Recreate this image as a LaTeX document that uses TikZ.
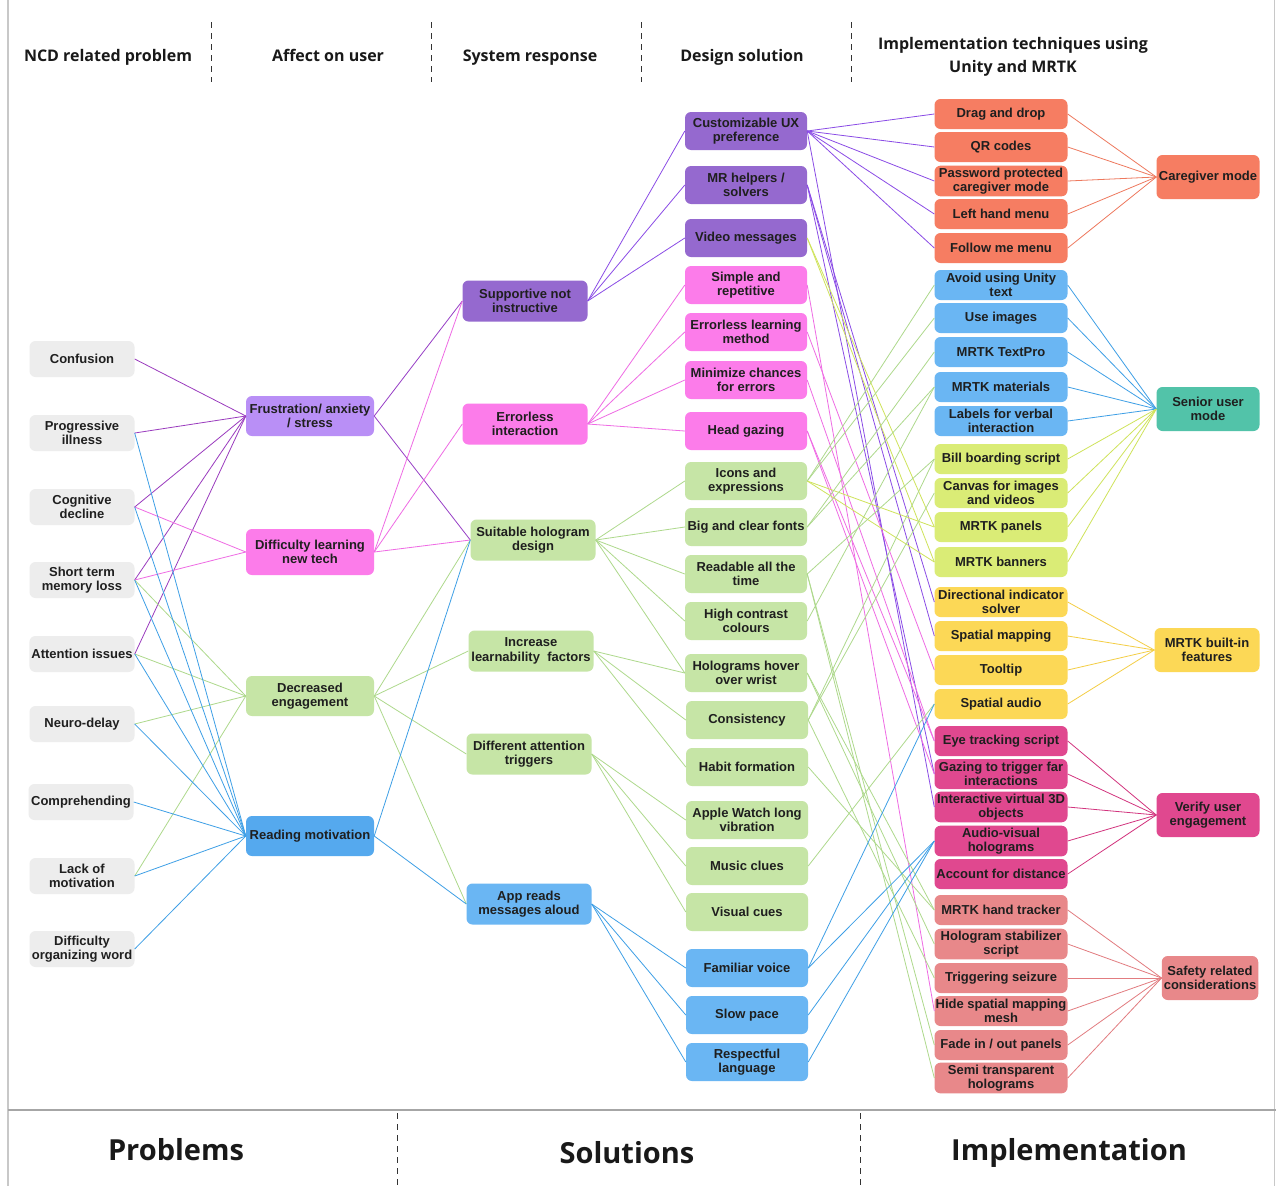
\documentclass[tikz,border=0pt]{standalone}
\usepackage{fontspec}
\setmainfont{Liberation Sans}
\newfontfamily\headfont{Open Sans}
% node fills
\definecolor{cgray}{HTML}{EDEDED}
\definecolor{clav}{HTML}{B98FF6}
\definecolor{cpink}{HTML}{FC7CEA}
\definecolor{cgreen}{HTML}{C6E5A6}
\definecolor{cblue}{HTML}{55A9EE}
\definecolor{cblue2}{HTML}{6AB6F3}
\definecolor{cviolet}{HTML}{9569CF}
\definecolor{corange}{HTML}{F67D62}
\definecolor{cteal}{HTML}{52C3A9}
\definecolor{clime}{HTML}{DAEC76}
\definecolor{cyellow}{HTML}{FCD856}
\definecolor{cmag}{HTML}{E0488F}
\definecolor{csalmon}{HTML}{E8888A}
% connector colours
\definecolor{lpurple}{HTML}{9A3BBE}
\definecolor{lviolet}{HTML}{8A4BE6}
\definecolor{lpink}{HTML}{EF6BE4}
\definecolor{lgreen}{HTML}{AED98C}
\definecolor{lblue}{HTML}{3E9FE6}
\definecolor{llime}{HTML}{CFE35A}
\definecolor{lorange}{HTML}{EE795E}
\definecolor{lyellow}{HTML}{F4CE45}
\definecolor{lmag}{HTML}{D2347E}
\definecolor{lsalmon}{HTML}{E27C80}
\definecolor{frame}{HTML}{C8C8C8}
\begin{document}
\begin{tikzpicture}[x=1pt,y=-1pt,
  box/.style={rounded corners=6pt, align=center, inner sep=2pt,
    font=\fontsize{13}{14.5}\selectfont\bfseries, text=black!88},
  prob/.style={box, fill=cgray, minimum width=105pt, minimum height=36pt},
  aff/.style={box, minimum width=128pt, minimum height=40pt},
  sys/.style={box, minimum width=125pt, minimum height=41pt},
  des/.style={box, minimum width=122pt, minimum height=38pt},
  imp/.style={box, inner xsep=1pt, minimum width=133pt, minimum height=30pt},
  cat/.style={box, minimum width=103pt, minimum height=44pt},
  head/.style={font=\headfont\fontsize{16}{23}\selectfont\bfseries, text=black!90, align=center, inner sep=0pt},
  foot/.style={font=\headfont\fontsize{29}{32}\selectfont\bfseries, text=black!90, inner sep=0pt, anchor=base},
  sep/.style={black!80, line width=0.9pt, dash pattern=on 6pt off 5pt},
  link/.style={line width=0.8pt}
]
\useasboundingbox (0,0) rectangle (1276,1186);
\fill[white] (0,0) rectangle (1276,1186);

% frame and footer rule
\draw[frame, line width=1.2pt] (8,0) -- (8,1186);
\draw[frame, line width=1.2pt] (1274.5,0) -- (1274.5,1186);
\draw[black!35, line width=1.4pt] (8,1110) -- (1276,1110);

% column headings
\node[head, anchor=base] (h1) at (108,61) {NCD related problem};
\node[head, anchor=base] (h2) at (328,61) {Affect on user};
\node[head, anchor=base] (h3) at (530,61) {System response};
\node[head, anchor=base] (h4) at (742,61) {Design solution};
\node[head] (h5) at (1013,57) {Implementation techniques using\\Unity and MRTK};
\foreach \x in {211,431,641,851} \draw[sep] (\x,22) -- (\x,82);

% footer
\node[foot] (f1) at (176,1160) {Problems};
\node[foot] (f2) at (627,1163) {Solutions};
\node[foot] (f3) at (1069,1160) {Implementation};
\foreach \x in {397,860} \draw[sep] (\x,1113) -- (\x,1186);

% NCD related problems
\node[prob] (p1) at (82,359) {Confusion};
\node[prob] (p2) at (82,433) {Progressive\\illness};
\node[prob] (p3) at (82,507) {Cognitive\\decline};
\node[prob] (p4) at (82,580) {Short term\\memory loss};
\node[prob] (p5) at (82,654) {Attention issues};
\node[prob] (p6) at (82,724) {Neuro-delay};
\node[prob] (p7) at (81,802) {Comprehending};
\node[prob] (p8) at (82,876) {Lack of\\motivation};
\node[prob] (p9) at (82,949) {Difficulty\\organizing word};

% affect on user
\node[aff, fill=clav] (a1) at (310,416) {Frustration/ anxiety\\/ stress};
\node[aff, fill=cpink, minimum height=46pt] (a2) at (310,552) {Difficulty learning\\new tech};
\node[aff, fill=cgreen] (a3) at (310,696) {Decreased\\engagement};
\node[aff, fill=cblue] (a4) at (310,836) {Reading motivation};

% system response
\node[sys, fill=cviolet] (s1) at (525,301) {Supportive not\\instructive};
\node[sys, fill=cpink] (s2) at (525,424) {Errorless\\interaction};
\node[sys, fill=cgreen] (s3) at (533,540) {Suitable hologram\\design};
\node[sys, fill=cgreen] (s4) at (531,651) {Increase\\learnability~ factors};
\node[sys, fill=cgreen] (s5) at (529,754) {Different attention\\triggers};
\node[sys, fill=cblue2] (s6) at (529,904) {App reads\\messages aloud};

% design solution
\node[des, fill=cviolet] (d1) at (746,131) {Customizable UX\\preference};
\node[des, fill=cviolet] (d2) at (746,185) {MR helpers /\\solvers};
\node[des, fill=cviolet] (d3) at (746,238) {Video messages};
\node[des, fill=cpink] (d4) at (746,285) {Simple and\\repetitive};
\node[des, fill=cpink] (d5) at (746,332) {Errorless learning\\method};
\node[des, fill=cpink] (d6) at (746,380) {Minimize chances\\for errors};
\node[des, fill=cpink] (d7) at (746,431) {Head gazing};
\node[des, fill=cgreen] (d8) at (746,481) {Icons and\\expressions};
\node[des, fill=cgreen] (d9) at (746,527) {Big and clear fonts};
\node[des, fill=cgreen] (d10) at (746,574) {Readable all the\\time};
\node[des, fill=cgreen] (d11) at (746,621) {High contrast\\colours};
\node[des, fill=cgreen] (d12) at (746,673) {Holograms hover\\over wrist};
\node[des, fill=cgreen] (d13) at (747,720) {Consistency};
\node[des, fill=cgreen] (d14) at (747,767) {Habit formation};
\node[des, fill=cgreen] (d15) at (747,820) {Apple Watch long\\vibration};
\node[des, fill=cgreen] (d16) at (747,866) {Music clues};
\node[des, fill=cgreen] (d17) at (747,912) {Visual cues};
\node[des, fill=cblue2] (d18) at (747,968) {Familiar voice};
\node[des, fill=cblue2] (d19) at (747,1015) {Slow pace};
\node[des, fill=cblue2] (d20) at (747,1062) {Respectful\\language};

% implementation techniques
\node[imp, fill=corange] (i1) at (1001,114) {Drag and drop};
\node[imp, fill=corange] (i2) at (1001,147) {QR codes};
\node[imp, fill=corange] (i3) at (1001,181) {Password protected\\caregiver mode};
\node[imp, fill=corange] (i4) at (1001,214) {Left hand menu};
\node[imp, fill=corange] (i5) at (1001,248) {Follow me menu};
\node[imp, fill=cblue2] (i6) at (1001,285) {Avoid using Unity\\text};
\node[imp, fill=cblue2] (i7) at (1001,318) {Use images};
\node[imp, fill=cblue2] (i8) at (1001,352) {MRTK TextPro};
\node[imp, fill=cblue2] (i9) at (1001,387) {MRTK materials};
\node[imp, fill=cblue2] (i10) at (1001,421) {Labels for verbal\\interaction};
\node[imp, fill=clime] (i11) at (1001,459) {Bill boarding script};
\node[imp, fill=clime] (i12) at (1001,493) {Canvas for images\\and videos};
\node[imp, fill=clime] (i13) at (1001,527) {MRTK panels};
\node[imp, fill=clime] (i14) at (1001,562) {MRTK banners};
\node[imp, fill=cyellow] (i15) at (1001,602) {Directional indicator\\solver};
\node[imp, fill=cyellow] (i16) at (1001,636) {Spatial mapping};
\node[imp, fill=cyellow] (i17) at (1001,670) {Tooltip};
\node[imp, fill=cyellow] (i18) at (1001,704) {Spatial audio};
\node[imp, fill=cmag] (i19) at (1001,741) {Eye tracking script};
\node[imp, fill=cmag] (i20) at (1001,774) {Gazing to trigger far\\interactions};
\node[imp, fill=cmag] (i21) at (1001,807) {Interactive virtual 3D\\objects};
\node[imp, fill=cmag] (i22) at (1001,841) {Audio-visual\\holograms};
\node[imp, fill=cmag] (i23) at (1001,874) {Account for distance};
\node[imp, fill=csalmon] (i24) at (1001,910) {MRTK hand tracker};
\node[imp, fill=csalmon] (i25) at (1001,944) {Hologram stabilizer\\script};
\node[imp, fill=csalmon] (i26) at (1001,978) {Triggering seizure};
\node[imp, fill=csalmon] (i27) at (1001,1011) {Hide spatial mapping\\mesh};
\node[imp, fill=csalmon] (i28) at (1001,1045) {Fade in / out panels};
\node[imp, fill=csalmon] (i29) at (1001,1078) {Semi transparent\\holograms};

% implementation groups
\node[cat, fill=corange] (c1) at (1208,177) {Caregiver mode};
\node[cat, fill=cteal] (c2) at (1208,409) {Senior user\\mode};
\node[cat, fill=cyellow, minimum width=105pt] (c3) at (1207,650) {MRTK built-in\\features};
\node[cat, fill=cmag] (c4) at (1208,815) {Verify user\\engagement};
\node[cat, fill=csalmon, minimum width=96pt] (c5) at (1210,978) {Safety related\\considerations};

% problems -> affect on user
\foreach \a in {p1,p2,p3,p4,p5} \draw[link, lpurple] (\a.east) -- (a1.west);
\foreach \a in {p3,p4} \draw[link, lpink] (\a.east) -- (a2.west);
\foreach \a in {p4,p5,p6,p8} \draw[link, lgreen] (\a.east) -- (a3.west);
\foreach \a in {p2,p3,p4,p5,p6,p7,p8,p9} \draw[link, lblue] (\a.east) -- (a4.west);

% affect on user -> system response
\foreach \b in {s1,s3} \draw[link, lpurple!80!lviolet] (a1.east) -- (\b.west);
\foreach \b in {s1,s2,s3} \draw[link, lpink] (a2.east) -- (\b.west);
\foreach \b in {s3,s4,s5,s6} \draw[link, lgreen] (a3.east) -- (\b.west);
\foreach \b in {s3,s6} \draw[link, lblue] (a4.east) -- (\b.west);

% system response -> design solution
\foreach \b in {d1,d2,d3} \draw[link, lviolet] (s1.east) -- (\b.west);
\foreach \b in {d4,d5,d6,d7} \draw[link, lpink] (s2.east) -- (\b.west);
\foreach \b in {d8,d9,d10,d11,d12} \draw[link, lgreen] (s3.east) -- (\b.west);
\foreach \b in {d12,d13,d14} \draw[link, lgreen] (s4.east) -- (\b.west);
\foreach \b in {d15,d16,d17} \draw[link, lgreen] (s5.east) -- (\b.west);
\foreach \b in {d18,d19,d20} \draw[link, lblue] (s6.east) -- (\b.west);

% design solution -> implementation
\foreach \b in {i1,i2,i3,i4,i5,i21} \draw[link, lviolet] (d1.east) -- (\b.west);
\foreach \b in {i15,i16,i20} \draw[link, lviolet] (d2.east) -- (\b.west);
\foreach \b in {i13,i14} \draw[link, llime] (d3.east) -- (\b.west);
\foreach \a/\b in {d4/i27, d5/i17, d6/i19, d7/i19, d7/i20} \draw[link, lpink] (\a.east) -- (\b.west);
\foreach \b in {i13,i14} \draw[link, llime] (d8.east) -- (\b.west);
\foreach \a/\b in {d8/i6, d8/i7, d9/i8, d9/i9, d10/i11, d11/i9, d13/i11, d13/i12,
  d16/i18, d10/i28, d10/i29, d12/i25, d12/i24, d14/i24, d13/i26}
  \draw[link, lgreen] (\a.east) -- (\b.west);
\foreach \a/\b in {d18/i18, d18/i22, d19/i22, d20/i22} \draw[link, lblue] (\a.east) -- (\b.west);

% implementation -> groups
\foreach \a in {i1,i2,i3,i4,i5} \draw[link, lorange] (\a.east) -- (c1.west);
\foreach \a in {i6,i7,i8,i9,i10} \draw[link, lblue] (\a.east) -- (c2.west);
\foreach \a in {i11,i12,i13,i14} \draw[link, llime] (\a.east) -- (c2.west);
\foreach \a in {i15,i16,i17,i18} \draw[link, lyellow] (\a.east) -- (c3.west);
\foreach \a in {i19,i20,i21,i22,i23} \draw[link, lmag] (\a.east) -- (c4.west);
\foreach \a in {i24,i25,i26,i27,i28,i29} \draw[link, lsalmon] (\a.east) -- (c5.west);
\end{tikzpicture}
\end{document}
